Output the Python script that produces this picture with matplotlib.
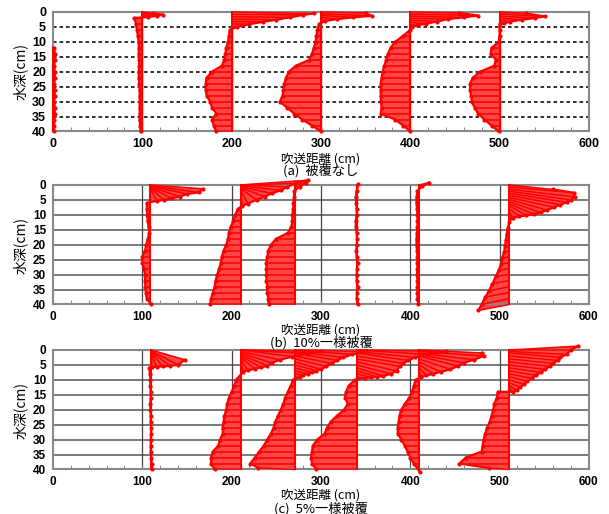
import numpy as np
import matplotlib.pyplot as plt
from matplotlib.collections import LineCollection
from matplotlib.ticker import MultipleLocator

plt.rcParams['font.family'] = ['Noto Sans CJK JP', 'DejaVu Sans']

# 軸・ラベル
XTICKS = [0, 100, 200, 300, 400, 500, 600]
YTICKS = [0, 5, 10, 15, 20, 25, 30, 35, 40]
XLABEL = '吹送距離 (cm)'
YLABEL = '水深(cm)'
CAPTIONS = ['(a)  被覆なし', '(b)  10%一様被覆', '(c)  5%一様被覆']

# 粒子の初期水深 (本体部分)
DEPTHS = [0, 2, 4, 6, 8, 10, 12, 14, 16, 18, 20, 22, 24, 26, 28, 30, 32, 34, 36, 38, 40]

# ---- (a) 被覆なし ----
a0_x0 = 0
a0_xe = [None, None, None, None, None, None, 1.5, 2, 2, 1.5, 2, 2, 1.5, 2, 2, 1.5, 2, 2, 1.5, 1.5, 1]

a1_x0 = 100
a1_fan_z0 = [0, 0.5, 1, 1.5]
a1_fan_xe = [112, 123, 116, 106]
a1_fan_ze = [0.4, 0.9, 1.3, 1.7]
a1_xe = [None, 91, 93, 94, 95, 96, 96, 96, 96.5, 96.5, 96, 96, 96.5, 97, 97, 97, 97, 97, 97, 97.5, 98]

a2_x0 = 200
a2_fan_z0 = [0, 0.8, 1.6, 2.4, 3.2, 4, 4.8]
a2_fan_xe = [292, 280, 265, 250, 235, 220, 206]
a2_fan_ze = [0.5, 1.0, 1.8, 2.6, 3.3, 4.1, 5.0]
a2_xe = [None, None, None, 198, 197, 196, 194, 193, 192, 189, 178, 172, 171, 171, 172, 176, 178, 183, 178, 180, 183]

a3_x0 = 300
a3_fan_z0 = [0, 0.6, 1.2, 1.8, 2.4]
a3_fan_xe = [350, 357, 336, 318, 305]
a3_fan_ze = [0.3, 1.3, 1.8, 2.4, 3.0]
a3_xe = [None, None, 298, 296, 295, 294, 292, 290, 287, 272, 264, 261, 259, 258, 257, 254, 262, 270, 279, 290, 300]

a4_x0 = 400
a4_fan_z0 = [0, 0.7, 1.4, 2.1, 2.8, 3.5, 4.2, 4.9]
a4_fan_xe = [455, 476, 460, 442, 430, 418, 408, 402]
a4_fan_ze = [0.3, 1.2, 1.8, 2.4, 3.2, 3.9, 4.5, 5.0]
a4_xe = [None, None, None, 400, 392, 383, 378, 375, 373, 371, 369, 368, 367, 367, 367, 367, 368, 367, 383, 392, 400]

a5_x0 = 500
a5_fan_z0 = [0, 0.7, 1.4, 2.1, 2.8, 3.5]
a5_fan_xe = [530, 551, 540, 525, 512, 505]
a5_fan_ze = [0.5, 1.5, 2.0, 2.6, 3.2, 3.8]
a5_xe = [None, None, 500, 500, 500, 499, 491, 490, 496, 494, 478, 470, 467, 467, 468, 469, 472, 476, 483, 491, 499]

# ---- (b) 10%一様被覆 ----
b1_x0 = 109
b1_fan_z0 = [0, 0.2, 0.4, 0.6, 0.8, 1.0, 1.2]
b1_fan_xe = [168, 163, 150, 142, 133, 124, 116]
b1_fan_ze = [1.3, 2.5, 3.0, 3.9, 4.5, 5.0, 5.3]
b1_xe = [None, None, None, 105, 105, 105.5, 106, 107, 108, 106, 104.5, 103, 100, 100, 102, 103, 103, 103.5, 104, 105, 110]

b2_x0 = 210
b2_fan_z0 = [0, 0, 0, 0.3, 0.6, 0.9, 1.2, 1.5, 2.0]
b2_fan_xe = [285, 272, 262, 255, 245, 237, 228, 218, 212]
b2_fan_ze = [-1.6, -0.5, 0.6, 1.8, 2.8, 3.9, 5.0, 6.2, 7.0]
b2_xe = [None, None, None, None, 207, 204, 202, 199, 197, 196, 194, 191, 189, 188, 186, 184, 182, 181, 179, 177, 176]

b3_x0 = 271
b3_fan_z0 = [0, 0.5]
b3_fan_xe = [283, 276]
b3_fan_ze = [-0.8, 0.6]
b3_xe = [None, 270, 270, 269, 269, 268, 268, 267, 263, 250, 244, 241, 240, 239, 239, 239, 239, 240, 240, 241, 242]

b4_x0 = 340
b4_fan_z0 = [0]
b4_fan_xe = [342]
b4_fan_ze = [-0.3]
b4_xe = [None, 340, 339, 339.5, 340, 340, 339, 339, 340, 340.5, 340, 339.5, 340, 341, 340.5, 340, 340, 341, 340.5, 340, 342]

b5_x0 = 410
b5_fan_z0 = [0, 0.3]
b5_fan_xe = [421, 413]
b5_fan_ze = [-0.8, 0.5]
b5_xe = [None, 408, 407, 407, 407.5, 408, 408, 408, 407.5, 407, 407, 407.5, 408, 408, 408, 407.5, 408, 408, 408, 408, 409]

b6_x0 = 511
b6_fan_z0 = [0, 0.7, 1.4, 2.1, 2.8, 3.5, 4.2, 4.9, 5.6, 6.3, 7.0, 8.0, 9.0]
b6_fan_xe = [560, 583, 584, 580, 575, 568, 561, 553, 546, 538, 530, 522, 515]
b6_fan_ze = [1.5, 2.6, 4.0, 5.0, 5.8, 6.6, 7.5, 8.4, 9.2, 9.8, 10.2, 10.5, 11.0]
b6_xe = [None, None, None, None, None, 513, 511, 509, 508, 507, 506, 505, 503, 502, 499, 496, 492, 488, 484, 480, 476]
b6_ze = [None, None, None, None, None, 11, 12.5, 14.5, 16.5, 18.5, 20.5, 22.5, 24.5, 26.5, 28.5, 30.5, 33, 35.5, 37.5, 40, 42]

# ---- (c) 5%一様被覆 ----
c1_x0 = 110
c1_fan_z0 = [0, 0.3, 0.6, 0.9, 1.2, 1.5]
c1_fan_xe = [148, 140, 131, 123, 116, 111]
c1_fan_ze = [3.3, 5.0, 5.3, 5.5, 5.6, 5.8]
c1_xe = [None, None, None, 108, 108.5, 109, 109, 109.5, 109.5, 109, 109, 109.5, 109.5, 110, 110, 109.5, 109.5, 109.5, 110, 110.5, 111]

c2_x0 = 210
c2_fan_z0 = [0, 0, 0, 0.5, 1, 1.5, 2, 2.5, 3, 3.5]
c2_fan_xe = [300, 285, 268, 254, 245, 240, 233, 226, 218, 213]
c2_fan_ze = [0.5, 1.2, 2.2, 3.3, 4.3, 5.3, 5.8, 6.3, 6.8, 7.3]
c2_xe = [None, None, None, None, None, 205, 203, 200, 197, 195, 194, 192, 191, 190, 190, 187, 185, 179, 177, 177, 181]

c3_x0 = 271
c3_fan_z0 = [0, 0, 0.5, 1, 2, 3, 4, 5, 6, 7, 8, 9]
c3_fan_xe = [350, 335, 325, 318, 312, 306, 300, 295, 290, 285, 280, 276]
c3_fan_ze = [0.5, 1.5, 2.5, 3.5, 4.5, 5.5, 6.5, 7.0, 7.5, 8.0, 8.5, 9.2]
c3_xe = [None, None, None, None, None, 269, 266, 263, 260, 258, 255, 252, 249, 247, 244, 240, 236, 231, 226, 221, 230]
c3_ze = [None, None, None, None, None, 10, 12, 14, 16, 18, 20, 22, 24, 26, 28, 30, 32, 34, 36, 38, 39.5]

c4_x0 = 340
c4_fan_z0 = [0, 0, 0.5, 1, 2, 3, 4, 5, 6, 7, 8, 9]
c4_fan_xe = [440, 420, 405, 398, 392, 388, 385, 378, 370, 363, 356, 349]
c4_fan_ze = [0.5, 1.5, 2.5, 3.5, 4.5, 5.5, 7.0, 8.0, 8.7, 9.0, 9.2, 9.4]
c4_xe = [None, None, None, None, None, 338, 331, 328, 327, 330, 326, 318, 311, 307, 304, 296, 291, 290, 289, 290, 295]

c5_x0 = 410
c5_fan_z0 = [0, 0.5, 1, 1.5, 2, 3, 4, 5, 6, 7]
c5_fan_xe = [480, 482, 471, 460, 453, 445, 434, 426, 418, 412]
c5_fan_ze = [1.0, 2.0, 3.3, 4.3, 5.4, 6.5, 7.3, 8.0, 8.5, 9.0]
c5_xe = [None, None, None, None, None, 406, 404, 402, 399, 394, 390, 388, 387, 386, 386, 390, 394, 397, 400, 404, 411]
c5_ze = [None, None, None, None, None, 10, 12, 14, 16, 18, 20, 22, 24, 26, 28, 30, 32, 34, 36, 38, 41]

c6_x0 = 511
c6_fan_z0 = [0, 0, 0.5, 1, 2, 3, 4, 5, 6, 7, 8, 9, 10, 11, 12, 13]
c6_fan_xe = [588, 580, 575, 568, 565, 560, 556, 551, 546, 541, 536, 531, 527, 523, 519, 515]
c6_fan_ze = [-1.3, 0, 1.5, 2.5, 3.5, 4.5, 5.5, 6.5, 7.5, 8.5, 9.5, 10.5, 11.5, 12.5, 13.5, 14.0]
c6_xe = [None, None, None, None, None, None, None, 498, 497, 494, 493, 491, 489, 486, 484, 482, 481, 480, 462, 455, 488]
c6_ze = [None, None, None, None, None, None, None, 14, 16, 18, 20, 22, 24, 26, 28, 30, 32, 34, 36, 38, 39.5]

# 各パネルの観測点 (x0, fan z0, fan xe, fan ze, body xe, body ze)
PANELS = [
    [(a0_x0, [], [], [], a0_xe, None),
     (a1_x0, a1_fan_z0, a1_fan_xe, a1_fan_ze, a1_xe, None),
     (a2_x0, a2_fan_z0, a2_fan_xe, a2_fan_ze, a2_xe, None),
     (a3_x0, a3_fan_z0, a3_fan_xe, a3_fan_ze, a3_xe, None),
     (a4_x0, a4_fan_z0, a4_fan_xe, a4_fan_ze, a4_xe, None),
     (a5_x0, a5_fan_z0, a5_fan_xe, a5_fan_ze, a5_xe, None)],
    [(b1_x0, b1_fan_z0, b1_fan_xe, b1_fan_ze, b1_xe, None),
     (b2_x0, b2_fan_z0, b2_fan_xe, b2_fan_ze, b2_xe, None),
     (b3_x0, b3_fan_z0, b3_fan_xe, b3_fan_ze, b3_xe, None),
     (b4_x0, b4_fan_z0, b4_fan_xe, b4_fan_ze, b4_xe, None),
     (b5_x0, b5_fan_z0, b5_fan_xe, b5_fan_ze, b5_xe, None),
     (b6_x0, b6_fan_z0, b6_fan_xe, b6_fan_ze, b6_xe, b6_ze)],
    [(c1_x0, c1_fan_z0, c1_fan_xe, c1_fan_ze, c1_xe, None),
     (c2_x0, c2_fan_z0, c2_fan_xe, c2_fan_ze, c2_xe, None),
     (c3_x0, c3_fan_z0, c3_fan_xe, c3_fan_ze, c3_xe, c3_ze),
     (c4_x0, c4_fan_z0, c4_fan_xe, c4_fan_ze, c4_xe, None),
     (c5_x0, c5_fan_z0, c5_fan_xe, c5_fan_ze, c5_xe, c5_ze),
     (c6_x0, c6_fan_z0, c6_fan_xe, c6_fan_ze, c6_xe, c6_ze)],
]

RED = '#ff0000'
FILL = '#ff4646'


def draw_station(ax, x0, fz0, fxe, fze, bxe, bze):
    bxe = np.array(bxe, dtype=float)
    bze = np.array(DEPTHS, dtype=float) if bze is None else np.array(bze, dtype=float)
    ok = ~np.isnan(bxe)
    z0 = np.r_[np.array(fz0, dtype=float), np.array(DEPTHS, dtype=float)[ok]]
    xe = np.r_[np.array(fxe, dtype=float), bxe[ok]]
    ze = np.r_[np.array(fze, dtype=float), bze[ok]]
    xs = np.full(len(z0), float(x0))

    # 始点と終点で囲まれた領域
    ax.fill(np.r_[xs, xe[::-1]], np.r_[z0, ze[::-1]], color=FILL, lw=0, zorder=2, clip_on=False)
    segs = [[(a, b), (c, d)] for a, b, c, d in zip(xs, z0, xe, ze)]
    ax.add_collection(LineCollection(segs, colors=RED, linewidths=1.1, zorder=3, clip_on=False))
    ax.plot(xe, ze, '-', color=RED, lw=1.6, marker='.', ms=4, zorder=4, clip_on=False)
    ax.plot(xs, z0, '-', color=RED, lw=1.5, zorder=4, clip_on=False)


fig = plt.figure(figsize=(6.09, 5.14), dpi=100)
positions = [[0.087, 0.7442, 0.880, 0.2325],
             [0.087, 0.4076, 0.880, 0.2325],
             [0.087, 0.0866, 0.880, 0.2325]]
xlabel_y = [0.690, 0.358, 0.037]
caption_y = [0.667, 0.333, 0.011]
ylabel_y = [0.86, 0.523, 0.202]

for i, stations in enumerate(PANELS):
    ax = fig.add_axes(positions[i])
    ax.set_xlim(0, 600)
    ax.set_ylim(40, 0)
    ax.set_xticks(XTICKS)
    ax.set_yticks(YTICKS)
    ax.xaxis.set_minor_locator(MultipleLocator(20))
    ax.tick_params(axis='x', which='both', direction='in', length=3, color='#777', pad=5)
    ax.tick_params(axis='y', which='both', length=0, pad=5)
    for lab in ax.get_xticklabels() + ax.get_yticklabels():
        lab.set_family(['Liberation Sans', 'DejaVu Sans'])
        lab.set_fontweight('bold')
        lab.set_fontsize(9 if i == 0 else 8.5)
    for sp in ax.spines.values():
        sp.set_color('#888888')
        sp.set_linewidth(1.5)

    if i == 0:
        for y in YTICKS[1:-1]:
            ax.axhline(y, color='#222222', lw=1.3, ls=(0, (2, 1.6)), zorder=1)
        for x in XTICKS[1:-1]:
            ax.axvline(x, color='#333333', lw=1.0, zorder=1)
    else:
        for y in YTICKS[1:-1]:
            ax.axhline(y, color='#555555', lw=1.1, zorder=1)
        for x in XTICKS[1:-1]:
            ax.axvline(x, color='#444444', lw=0.9, zorder=1)

    for st in stations:
        draw_station(ax, *st)

    fig.text(0.527, xlabel_y[i], XLABEL, ha='center', va='center', fontsize=9)
    fig.text(0.527, caption_y[i], CAPTIONS[i], ha='center', va='center', fontsize=9.5)
    fig.text(0.033, ylabel_y[i], YLABEL, ha='center', va='center', rotation=90, fontsize=10)

fig.savefig('out.png', dpi=100)
